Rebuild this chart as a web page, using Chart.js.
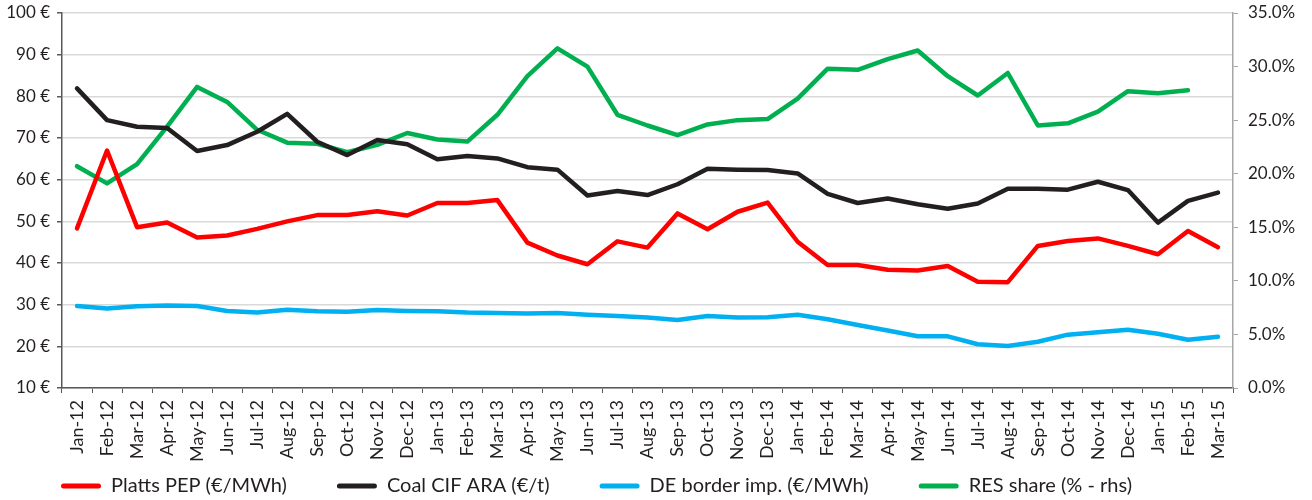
<!DOCTYPE html>
<html>
<head>
<meta charset="utf-8">
<script src="https://cdn.jsdelivr.net/npm/chart.js@4.4.1/dist/chart.umd.min.js"></script>
<style>
  html, body { margin: 0; padding: 0; background: #ffffff; }
  #wrap { position: relative; width: 1312px; height: 500px; }
</style>
</head>
<body>
<div id="wrap"><canvas id="c" width="1312" height="500"></canvas></div>
<script>
const categories = ["Jan-12","Feb-12","Mar-12","Apr-12","May-12","Jun-12","Jul-12","Aug-12","Sep-12","Oct-12","Nov-12","Dec-12",
  "Jan-13","Feb-13","Mar-13","Apr-13","May-13","Jun-13","Jul-13","Aug-13","Sep-13","Oct-13","Nov-13","Dec-13",
  "Jan-14","Feb-14","Mar-14","Apr-14","May-14","Jun-14","Jul-14","Aug-14","Sep-14","Oct-14","Nov-14","Dec-14",
  "Jan-15","Feb-15","Mar-15"];

const plattsPEP = [48.3, 67.0, 48.6, 49.7, 46.1, 46.6, 48.2, 50.0, 51.5, 51.5, 52.4, 51.4,
  54.4, 54.4, 55.1, 44.9, 41.8, 39.7, 45.2, 43.7, 51.9, 48.1, 52.3, 54.5,
  45.1, 39.5, 39.5, 38.4, 38.2, 39.3, 35.5, 35.4, 44.1, 45.3, 45.9, 44.1,
  42.1, 47.7, 43.8];

const coalCIF = [81.9, 74.3, 72.7, 72.4, 66.9, 68.3, 71.5, 75.8, 69.1, 65.9, 69.5, 68.5,
  64.9, 65.7, 65.1, 63.0, 62.4, 56.2, 57.3, 56.3, 58.9, 62.6, 62.4, 62.3,
  61.5, 56.6, 54.4, 55.5, 54.1, 53.0, 54.3, 57.8, 57.8, 57.6, 59.5, 57.5,
  49.7, 54.9, 56.9];

const deBorder = [29.7, 29.1, 29.6, 29.8, 29.7, 28.5, 28.1, 28.8, 28.4, 28.3, 28.7, 28.5,
  28.4, 28.1, 28.0, 27.9, 28.0, 27.6, 27.3, 26.9, 26.3, 27.3, 26.9, 27.0,
  27.6, 26.5, 25.1, 23.8, 22.4, 22.4, 20.5, 20.1, 21.1, 22.8, 23.4, 24.0,
  23.0, 21.6, 22.3];

const resShare = [20.7, 19.1, 20.9, 24.4, 28.1, 26.7, 24.1, 22.9, 22.8, 22.0, 22.7, 23.8,
  23.2, 23.0, 25.5, 29.1, 31.7, 30.0, 25.5, 24.5, 23.6, 24.6, 25.0, 25.1,
  27.0, 29.8, 29.7, 30.7, 31.5, 29.1, 27.3, 29.4, 24.5, 24.7, 25.8, 27.7,
  27.5, 27.8, null];

const leftTicks = [10, 20, 30, 40, 50, 60, 70, 80, 90, 100];
const rightTicks = [0, 5, 10, 15, 20, 25, 30, 35];

const seriesNames = ["Platts PEP (€/MWh)", "Coal CIF ARA (€/t)", "DE border imp. (€/MWh)", "RES share (% - rhs)"];

const X_FONT = { family: "Lato, sans-serif", size: 18 };
const Y_FONT = { family: "Lato, sans-serif", size: 17 };
const LEGEND_FONT = { family: "Lato, sans-serif", size: 20 };

function ds(label, data, color, axis) {
  return {
    label: label, data: data, borderColor: color, backgroundColor: color,
    borderWidth: 4.5, pointRadius: 0, pointHoverRadius: 0, tension: 0,
    borderJoinStyle: 'round', borderCapStyle: 'round', fill: false, yAxisID: axis, spanGaps: false
  };
}

// let tick labels overflow their axis box (no clipping of labels)
function noLabelClip(scale) { scale._computeLabelArea = function() { return undefined; }; }

new Chart(document.getElementById('c'), {
  type: 'line',
  data: {
    labels: categories,
    datasets: [
      ds(seriesNames[0], plattsPEP, '#ff0000', 'y'),
      ds(seriesNames[1], coalCIF, '#231f20', 'y'),
      ds(seriesNames[2], deBorder, '#00b0f0', 'y'),
      ds(seriesNames[3], resShare, '#00b050', 'y1')
    ]
  },
  options: {
    responsive: false,
    animation: false,
    devicePixelRatio: 1,
    layout: { padding: { left: 11, right: 0, top: 13, bottom: -6 } },
    plugins: {
      tooltip: { enabled: false },
      legend: {
        position: 'bottom',
        align: 'start',
        labels: {
          font: LEGEND_FONT,
          color: '#231f20',
          boxWidth: 40,
          boxHeight: 5,
          padding: 50,
          generateLabels: function(chart) {
            const items = Chart.defaults.plugins.legend.labels.generateLabels(chart);
            items.forEach(it => { it.lineWidth = 0; it.strokeStyle = 'rgba(0,0,0,0)'; it.borderRadius = 2.5; });
            return items;
          }
        }
      }
    },
    scales: {
      x: {
        type: 'category',
        offset: true,
        afterUpdate: noLabelClip,
        afterFit: function(scale) { scale.height = 38; },
        grid: { display: true, drawOnChartArea: false, drawTicks: true, tickLength: 5, offset: true, color: '#595959', tickColor: '#595959' },
        border: { display: true, color: '#595959', width: 1.5 },
        ticks: { font: X_FONT, color: '#231f20', maxRotation: 90, minRotation: 90, autoSkip: false, padding: 7 }
      },
      y: {
        position: 'left',
        min: 10, max: 100,
        afterUpdate: noLabelClip,
        afterFit: function(scale) { scale.width = 51; scale.paddingTop = 0; scale.paddingBottom = 0; },
        afterBuildTicks: function(axis) { axis.ticks = leftTicks.map(v => ({ value: v })); },
        grid: { color: '#d9d9d9', lineWidth: 1.5, drawTicks: true, tickLength: 5, tickColor: '#595959' },
        border: { display: true, color: '#595959', width: 1.5 },
        ticks: { font: Y_FONT, color: '#231f20', padding: 7, callback: v => v + ' €' }
      },
      y1: {
        position: 'right',
        min: 0, max: 35,
        afterUpdate: noLabelClip,
        afterFit: function(scale) { scale.width = 79; scale.paddingTop = 0; scale.paddingBottom = 0; },
        afterBuildTicks: function(axis) { axis.ticks = rightTicks.map(v => ({ value: v })); },
        grid: { drawOnChartArea: false, drawTicks: true, tickLength: 5, color: '#a6a6a6', tickColor: '#a6a6a6' },
        border: { display: true, color: '#a6a6a6', width: 1.5 },
        ticks: { font: Y_FONT, color: '#231f20', padding: 10, callback: v => v.toFixed(1) + '%' }
      }
    }
  }
});
</script>
</body>
</html>
